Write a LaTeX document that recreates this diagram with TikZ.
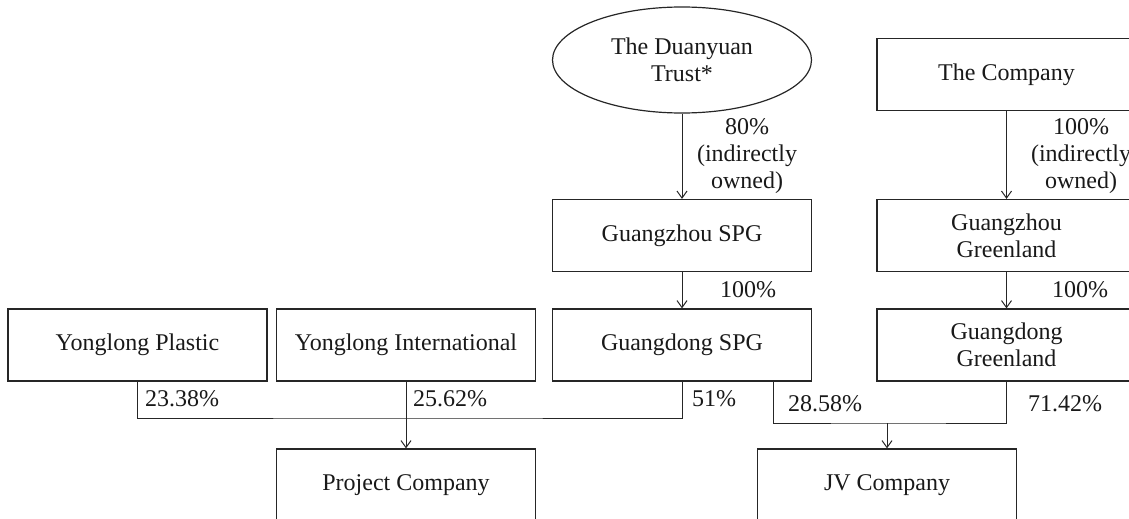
\documentclass[tikz,border=0pt]{standalone}
\usepackage{fontspec}
\setmainfont{Liberation Serif}
\usepackage{tikz}
\usetikzlibrary{arrows.meta,shapes.geometric}

\begin{document}
\begin{tikzpicture}[x=0.5pt,y=-0.5pt,
	every node/.style={font=\fontsize{12}{13.5}\selectfont,text=black!90,align=center},
	entity/.style={draw=black!85,line width=0.6pt,rectangle,minimum width=129.5pt,minimum height=36pt,inner sep=0pt},
	trust/.style={draw=black!85,line width=0.6pt,ellipse,minimum width=129.5pt,minimum height=53pt,inner sep=0pt},
	link/.style={draw=black!85,line width=0.5pt},
	own/.style={link,-{Straight Barb[length=3.5pt,width=5pt]}}]

	\useasboundingbox (0,0) rectangle (1129,519);

	% top level
	\node[trust] (duanyuan) at (682,60) {The Duanyuan\\Trust*};
	\node[entity] (company) at (1006.5,74.5) {The Company};

	% middle levels
	\node[entity] (gzspg) at (682,235.5) {Guangzhou SPG};
	\node[entity] (gzgreen) at (1006.5,235.5) {Guangzhou\\Greenland};
	\node[entity] (ylplastic) at (137.5,345) {Yonglong Plastic};
	\node[entity] (ylintl) at (406,345) {Yonglong International};
	\node[entity] (gdspg) at (682,345) {Guangdong SPG};
	\node[entity] (gdgreen) at (1006.5,345) {Guangdong\\Greenland};

	% bottom level
	\node[entity] (project) at (406,485) {Project Company};
	\node[entity] (jv) at (887,485) {JV Company};

	\draw[own] (duanyuan) -- (gzspg);
	\draw[own] (gzspg) -- (gdspg);
	\draw[own] (company) -- (gzgreen);
	\draw[own] (gzgreen) -- (gdgreen);

	\coordinate (projjoin) at (406,418);
	\draw[link] (ylplastic.south) |- (projjoin) -| (gdspg.south);
	\draw[own] (ylintl) -- (project);

	\coordinate (spgout) at (773,381);
	\coordinate (jvjoin) at (887,423);
	\draw[link] (spgout) |- (jvjoin) -| (gdgreen.south);
	\draw[own] (jvjoin) -- (jv);

	\node (trustpct) at (747,156) {80\%\\(indirectly\\owned)};
	\node (companypct) at (1081,156) {100\%\\(indirectly\\owned)};
	\node (gzspgpct) at (748,290) {100\%};
	\node (gzgreenpct) at (1080,290) {100\%};
	\node (plasticpct) at (182,399) {23.38\%};
	\node (intlpct) at (450,399) {25.62\%};
	\node (spgpct) at (714,399) {51\%};
	\node (spgjvpct) at (825,404) {28.58\%};
	\node (greenpct) at (1065,404) {71.42\%};

\end{tikzpicture}
\end{document}
